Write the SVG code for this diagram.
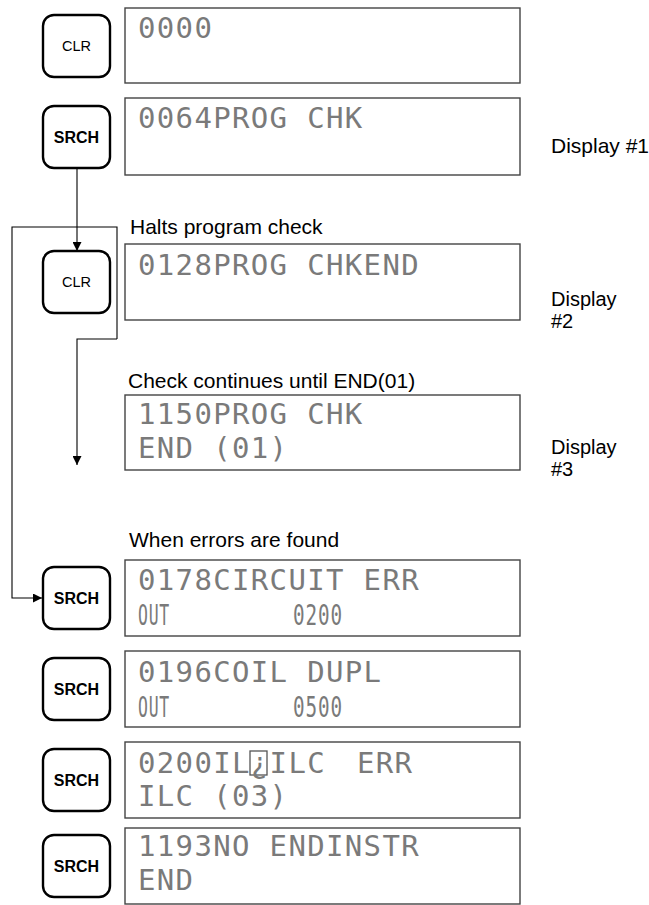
<svg xmlns="http://www.w3.org/2000/svg" width="649" height="905" viewBox="0 0 649 905">
<style>
.key rect{fill:#fff;stroke:#000;stroke-width:2.4}
.kl{font-family:"Liberation Sans",Arial,sans-serif;font-size:14.5px;fill:#000;text-anchor:middle}
.kb{font-family:"Liberation Sans",Arial,sans-serif;font-size:16px;font-weight:bold;fill:#000;text-anchor:middle}
.disp rect{fill:#fff;stroke:#444;stroke-width:1.4}
.lcd{font-family:"DejaVu Sans Mono","Liberation Mono",monospace;font-size:29px;letter-spacing:1.34px;fill:#7a7a7a}
.lbl{font-family:"Liberation Sans",Arial,sans-serif;font-size:21px;fill:#000}
.dl{font-family:"Liberation Sans",Arial,sans-serif;font-size:20px;fill:#000}
.conn path{fill:none;stroke:#000;stroke-width:1.1}
</style>
<defs>
<marker id="ah" viewBox="0 0 10 10" refX="10" refY="5" markerWidth="9" markerHeight="9" markerUnits="userSpaceOnUse" orient="auto">
<path d="M0,0 L10,5 L0,10 z" fill="#000"/>
</marker>
</defs>
<rect width="649" height="905" fill="#fff"/>

<g class="conn" id="connectors">
<path d="M77 168 V251" marker-end="url(#ah)"/>
<path d="M117 339 V227 H12 V598 H42" marker-end="url(#ah)"/>
<path d="M117 339 H77 V465" marker-end="url(#ah)"/>
</g>

<g id="key1" class="key"><rect x="43" y="15" width="67" height="62" rx="11"/><text class="kl" x="76.5" y="51">CLR</text></g>
<g id="key2" class="key"><rect x="43" y="106" width="67" height="62" rx="11"/><text class="kb" x="76.5" y="143">SRCH</text></g>
<g id="key3" class="key"><rect x="43" y="251" width="67" height="62" rx="11"/><text class="kl" x="76.5" y="287">CLR</text></g>
<g id="key4" class="key"><rect x="43" y="567" width="67" height="62" rx="11"/><text class="kb" x="76.5" y="604">SRCH</text></g>
<g id="key5" class="key"><rect x="43" y="658" width="67" height="62" rx="11"/><text class="kb" x="76.5" y="695">SRCH</text></g>
<g id="key6" class="key"><rect x="43" y="749" width="67" height="62" rx="11"/><text class="kb" x="76.5" y="786">SRCH</text></g>
<g id="key7" class="key"><rect x="43" y="835" width="67" height="62" rx="11"/><text class="kb" x="76.5" y="872">SRCH</text></g>

<g id="display1" class="disp"><rect x="125" y="8" width="395" height="75"/><text class="lcd" x="138" y="38">0000</text></g>
<g id="display2" class="disp"><rect x="125" y="98" width="395" height="77"/><text class="lcd" x="138" y="128">0064PROG CHK</text></g>
<g id="display3" class="disp"><rect x="125" y="244" width="395" height="76"/><text class="lcd" x="138" y="275">0128PROG CHKEND</text></g>
<g id="display4" class="disp"><rect x="125" y="395" width="395" height="75"/><text class="lcd" x="138" y="424">1150PROG CHK</text><text class="lcd" x="138" y="458">END (01)</text></g>
<g id="display5" class="disp"><rect x="125" y="560" width="395" height="76"/><text class="lcd" x="138" y="590">0178CIRCUIT ERR</text><text class="lcd" x="138" y="625" textLength="32" lengthAdjust="spacingAndGlyphs">OUT</text><text class="lcd" x="293" y="625" textLength="50" lengthAdjust="spacingAndGlyphs">0200</text></g>
<g id="display6" class="disp"><rect x="125" y="651" width="395" height="76"/><text class="lcd" x="138" y="682">0196COIL DUPL</text><text class="lcd" x="138" y="717" textLength="32" lengthAdjust="spacingAndGlyphs">OUT</text><text class="lcd" x="293" y="717" textLength="50" lengthAdjust="spacingAndGlyphs">0500</text></g>
<g id="display7" class="disp"><rect x="125" y="742" width="395" height="76"/><rect x="250" y="751" width="17" height="24" style="fill:none;stroke:#555;stroke-width:1.3"/><text class="lcd" x="138" y="773">0200IL¿ILC <tspan x="357">ERR</tspan></text><text class="lcd" x="138" y="806">ILC (03)</text></g>
<g id="display8" class="disp"><rect x="125" y="828" width="395" height="76"/><text class="lcd" x="138" y="856">1193NO ENDINSTR</text><text class="lcd" x="138" y="890">END</text></g>

<g id="labels">
<text class="lbl" x="130" y="234">Halts program check</text>
<text class="lbl" x="128" y="388">Check continues until END(01)</text>
<text class="lbl" x="129" y="547">When errors are found</text>
<text class="lbl" x="551" y="153">Display #1</text>
<text class="dl" x="551" y="306">Display</text>
<text class="dl" x="551" y="328">#2</text>
<text class="dl" x="551" y="454">Display</text>
<text class="dl" x="551" y="476">#3</text>
</g>
</svg>
